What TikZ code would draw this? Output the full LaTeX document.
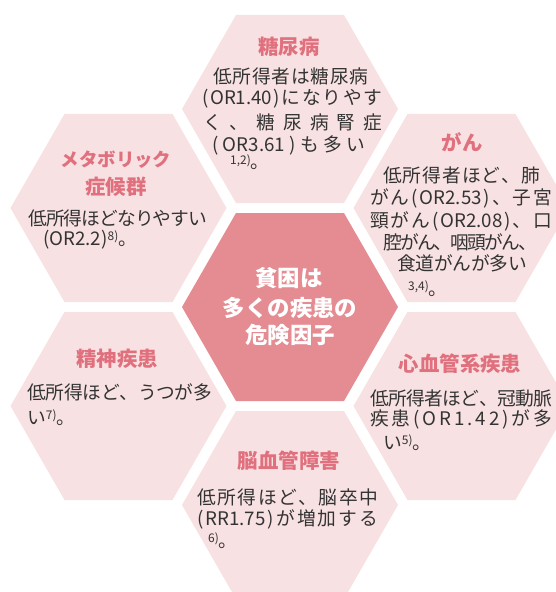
\documentclass[tikz,border=0pt]{standalone}
\usepackage{fontspec}
\setmainfont{Noto Sans CJK JP}
\definecolor{hexlight}{HTML}{F8E1E2}
\definecolor{hexcenter}{HTML}{E48C92}
\definecolor{titlecol}{HTML}{E0707D}
\definecolor{bodycol}{HTML}{333333}
\newcommand\jbody{\fontsize{18.8}{22}\selectfont}
\newcommand\jtitle{\fontsize{20.5}{24}\selectfont\bfseries}
\newcommand\jcenter{\fontsize{22.5}{26}\selectfont\bfseries}
\newcommand\jsup[1]{\raisebox{4.5bp}{\fontsize{12}{12}\selectfont #1}}
\makeatletter
\newcommand\spl@end{}
\newcommand\spreadline[2]{\makebox[#1bp][s]{\spl@first#2\spl@end}}
\def\spl@first#1{#1\spl@rest}
\def\spl@rest{\@ifnextchar\spl@end{\@gobble}{\hskip0pt plus1fil minus1fil\relax\spl@first}}
\makeatother
\tikzset{
  ttl/.style={text=titlecol, font=\jtitle, inner sep=0, anchor=base},
  bd/.style={text=bodycol, font=\jbody, inner sep=0, anchor=base west},
  ctr/.style={text=white, font=\jcenter, inner sep=0, anchor=base},
}
\newcommand\hexat[3]{\fill[#3, shift={(#1,#2)}] (-108,0) -- (-54,-94) -- (54,-94) -- (108,0) -- (54,94) -- (-54,94) -- cycle;}
\begin{document}
\begin{tikzpicture}[x=1bp,y=-1bp]
\useasboundingbox (0,0) rectangle (556,592);
\begin{scope}
\clip (0,0) rectangle (556,592);
\hexat{290}{109}{hexlight}
\hexat{118.5}{208}{hexlight}
\hexat{461.5}{208}{hexlight}
\hexat{118.5}{406}{hexlight}
\hexat{461.5}{406}{hexlight}
\hexat{290}{505}{hexlight}
\hexat{290}{307}{hexcenter}
\end{scope}
% center
\node[ctr] (c1) at (289,286.5) {貧困は};
\node[ctr] (c2) at (290,316.5) {多くの疾患の};
\node[ctr] (c3) at (290,343.5) {危険因子};
% top
\node[ttl] (t0) at (289,55) {糖尿病};
\node[bd] (t1) at (213,84) {\spreadline{155}{低所得者は糖尿病}};
\node[bd] (t2) at (202,105) {\spreadline{180}{({OR1.40})になりやす}};
\node[bd] (t3) at (203,130) {\spreadline{179}{く、糖尿病腎症}};
\node[bd] (t4) at (212,152) {\spreadline{153}{({OR3.61})も多い}};
\node[bd] (t5) at (230,169) {\jsup{1,2)}。};
% upper right
\node[ttl] (r0) at (462,151) {がん};
\node[bd] (r1) at (383,182) {\spreadline{157}{低所得者ほど、肺}};
\node[bd] (r2) at (370,204) {\spreadline{182}{がん({OR2.53})、子宮}};
\node[bd] (r3) at (370,227) {\spreadline{182}{頸がん({OR2.08})、口}};
\node[bd] (r4) at (383,249) {\spreadline{154}{腔がん、咽頭がん、}};
\node[bd] (r5) at (397,270) {\spreadline{130}{食道がんが多い}};
\node[bd] (r6) at (408,295) {\jsup{3,4)}。};
% upper left
\node[ttl, font=\fontsize{18.5}{22}\selectfont\bfseries] (l0a) at (116,167) {メタボリック};
\node[ttl] (l0b) at (116,194) {症候群};
\node[bd] (l1) at (28,225) {\spreadline{179}{低所得ほどなりやすい}};
\node[bd] (l2) at (43,245) {({OR2.2})\jsup{8)}。};
% lower left
\node[ttl] (ll0) at (117,366) {精神疾患};
\node[bd] (ll1) at (27,399) {\spreadline{185}{低所得ほど、うつが多}};
\node[bd] (ll2) at (27,424) {い\jsup{7)}。};
% lower right
\node[ttl] (lr0) at (460,371) {心血管系疾患};
\node[bd] (lr1) at (370,405) {\spreadline{182}{低所得者ほど、冠動脈}};
\node[bd] (lr2) at (370,425) {\spreadline{182}{疾患(OR1.42)が多}};
\node[bd] (lr3) at (383,449) {い\jsup{5)}。};
% bottom
\node[ttl] (b0) at (289,468) {脳血管障害};
\node[bd] (b1) at (197,504) {\spreadline{181}{低所得ほど、脳卒中}};
\node[bd] (b2) at (197,525) {\spreadline{181}{({RR1.75})が増加する}};
\node[bd] (b3) at (208,547) {\jsup{6)}。};
\end{tikzpicture}
\end{document}
